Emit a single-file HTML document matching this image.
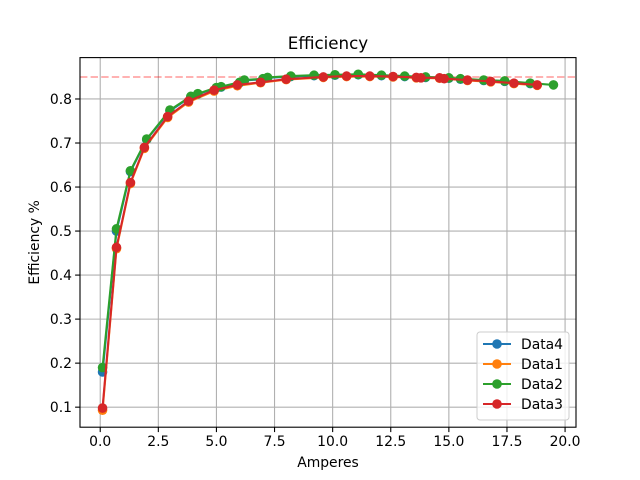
<!DOCTYPE html>
<html><head><meta charset="utf-8"><style>
body{margin:0;background:#fff;}
svg{display:block;font-family:"DejaVu Sans","Liberation Sans",sans-serif;}
</style></head><body>
<svg id="chart" width="640" height="480" xmlns="http://www.w3.org/2000/svg"></svg>
<script>
const seriesNames = ["Data4","Data1","Data2","Data3"];
const seriesColors = ["#1f77b4","#ff7f0e","#2ca02c","#d62728"];
const x4 = [0.1,0.7,1.3,2.0,3.0,3.9,4.2,5.0,5.2,6.0,6.2,7.0,7.2,8.2,9.2,10.1,11.1,12.1,13.1,14.0,15.0,15.5,16.5,17.4,18.5];
const y4 = [0.18,0.50,0.635,0.708,0.773,0.805,0.811,0.825,0.827,0.837,0.842,0.845,0.848,0.851,0.853,0.854,0.855,0.853,0.851,0.849,0.847,0.845,0.842,0.840,0.835];
const x1 = [0.1,0.7,1.3,1.9,2.9,3.8,4.9,5.9,6.9,8.0,9.6,10.6,11.6,12.6,13.6,14.6,15.8,16.8,17.8,18.8];
const y1 = [0.093,0.46,0.608,0.688,0.758,0.793,0.818,0.830,0.837,0.844,0.849,0.851,0.851,0.850,0.848,0.847,0.842,0.839,0.835,0.831];
const x2 = [0.1,0.7,1.3,2.0,3.0,3.9,4.2,5.0,5.2,6.0,6.2,7.0,7.2,8.2,9.2,10.1,11.1,12.1,13.1,14.0,15.0,15.5,16.5,17.4,18.5,19.5];
const y2 = [0.19,0.505,0.637,0.709,0.775,0.806,0.812,0.826,0.828,0.838,0.843,0.846,0.849,0.852,0.854,0.855,0.856,0.854,0.852,0.850,0.848,0.846,0.843,0.841,0.836,0.832];
const x3 = [0.1,0.7,1.3,1.9,2.9,3.8,4.9,5.9,6.9,8.0,9.6,10.6,11.6,12.6,13.6,13.8,14.6,14.8,15.8,16.8,17.8,18.8];
const y3 = [0.098,0.463,0.61,0.69,0.76,0.795,0.82,0.832,0.838,0.845,0.85,0.852,0.852,0.851,0.849,0.848,0.848,0.846,0.843,0.840,0.836,0.832];
const xTicks = [0,2.5,5,7.5,10,12.5,15,17.5,20];
const xTickLabels = ["0.0","2.5","5.0","7.5","10.0","12.5","15.0","17.5","20.0"];
const yTicks = [0.1,0.2,0.3,0.4,0.5,0.6,0.7,0.8];
const yTickLabels = ["0.1","0.2","0.3","0.4","0.5","0.6","0.7","0.8"];
const refLine = 0.85;

const L=80,R=576,T=57.6,B=427.2;
const xMin=-0.87,xMax=20.47,yMin=0.0545,yMax=0.894;
const sx=v=>L+(v-xMin)/(xMax-xMin)*(R-L);
const sy=v=>B-(v-yMin)/(yMax-yMin)*(B-T);
const svg=document.getElementById('chart');
const NS="http://www.w3.org/2000/svg";
function mk(tag,attrs,parent){const e=document.createElementNS(NS,tag);for(const k in attrs)e.setAttribute(k,attrs[k]);(parent||svg).appendChild(e);return e;}

const grid=mk('g',{});


xTicks.forEach((t,i)=>{
  mk('line',{x1:sx(t),x2:sx(t),y1:T,y2:B,stroke:'#b0b0b0','stroke-width':1.1},grid);
  mk('line',{x1:sx(t),x2:sx(t),y1:B,y2:B+4.9,stroke:'#000','stroke-width':1.1});
  const tx=mk('text',{x:sx(t),y:B+19,'font-size':13.9,'text-anchor':'middle'});
  
  
  tx.textContent=xTickLabels[i];
});
yTicks.forEach((t,i)=>{
  mk('line',{x1:L,x2:R,y1:sy(t),y2:sy(t),stroke:'#b0b0b0','stroke-width':1.1},grid);
  mk('line',{x1:L-4.9,x2:L,y1:sy(t),y2:sy(t),stroke:'#000','stroke-width':1.1});
  const ty=mk('text',{x:L-8,y:sy(t)+5,'font-size':13.9,'text-anchor':'end'});
  
  
  ty.textContent=yTickLabels[i];
});
const ref=mk('line',{x1:L,x2:R,y1:sy(refLine),y2:sy(refLine),stroke:'#ff0000','stroke-opacity':0.3,'stroke-width':2,'stroke-dasharray':'7.4,3.2'});



const xs=[x4,x1,x2,x3], ys=[y4,y1,y2,y3];
xs.forEach((xa,si)=>{
  const g=mk('g',{});
  
  
  mk('polyline',{points:xa.map((x,i)=>sx(x)+','+sy(ys[si][i])).join(' '),fill:'none',stroke:seriesColors[si],'stroke-width':2.1},g);
  xa.forEach((x,i)=>{
    const c=mk('circle',{cx:sx(x),cy:sy(ys[si][i]),r:4.8,fill:seriesColors[si]},g);
    
    
  });
});
mk('rect',{x:L,y:T,width:R-L,height:B-T,fill:'none',stroke:'#000','stroke-width':1.1});
const title=mk('text',{x:(L+R)/2,y:49,'font-size':16.7,'text-anchor':'middle'});


title.textContent='Efficiency';
const xl=mk('text',{x:(L+R)/2,y:467,'font-size':13.9,'text-anchor':'middle'});


xl.textContent='Amperes';
const yl=mk('text',{x:0,y:0,'font-size':13.9,'text-anchor':'middle',transform:'translate(39,'+((T+B)/2)+') rotate(-90)'});


yl.textContent='Efficiency %';

const lg=mk('g',{});


mk('rect',{x:477,y:332,width:92,height:88,rx:3,fill:'#fff','fill-opacity':0.8,stroke:'#cccccc'},lg);
seriesNames.forEach((n,i)=>{
  const y=344+i*20;
  const e=mk('g',{},lg);
  
  
  mk('line',{x1:483,x2:511,y1:y,y2:y,stroke:seriesColors[i],'stroke-width':2.1},e);
  mk('circle',{cx:497,cy:y,r:4.8,fill:seriesColors[i]},e);
  const t=mk('text',{x:521,y:y+5,'font-size':13.9},e);
  t.textContent=n;
});
</script>
</body></html>
